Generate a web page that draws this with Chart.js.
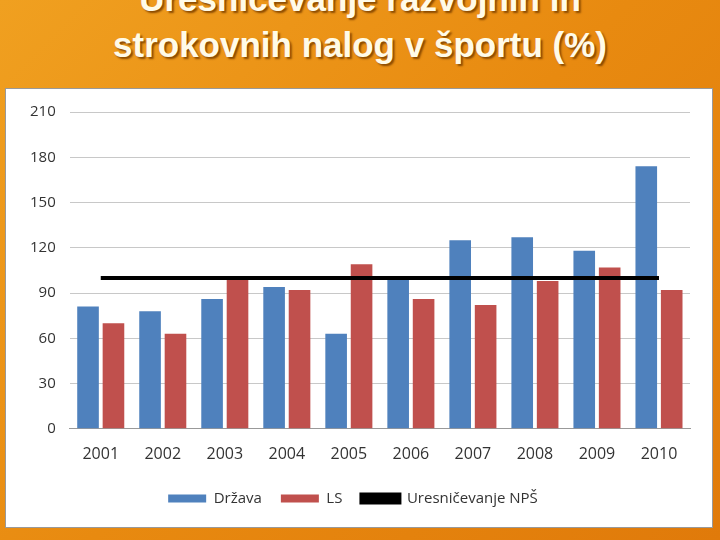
<!DOCTYPE html>
<html><head><meta charset="utf-8">
<script src="https://cdn.jsdelivr.net/npm/chart.js@4"></script>
<style>
body{margin:0;width:720px;height:540px;overflow:hidden;background:linear-gradient(135deg,#f0a020 0%,#e88a10 50%,#e07a0a 100%);font-family:"Liberation Sans",Arial,sans-serif;position:relative}
.t{position:absolute;left:0;width:720px;text-align:center;color:#fffbe8;font-weight:bold;font-size:35px;text-shadow:2px 2px 2px #8a4a00}
#panel{position:absolute;left:5px;top:88px;width:706px;height:438px;background:#fff;border:1px solid #999}
</style></head><body>
<div class="t" style="top:-21px">Uresničevanje razvojnih in</div>
<div class="t" style="top:25px">strokovnih nalog v športu (%)</div>
<div id="panel"><canvas id="c" width="706" height="438"></canvas></div>
<script>
const categories=["2001","2002","2003","2004","2005","2006","2007","2008","2009","2010"];
const drzava=[81,78,86,94,63,101,125,127,118,174];
const ls=[70,63,100,92,109,86,82,98,107,92];
const nps=[100,100,100,100,100,100,100,100,100,100];
new Chart(document.getElementById('c'),{
 data:{labels:categories,datasets:[
  {type:'line',label:'Uresničevanje NPŠ',data:nps,borderColor:'#000',backgroundColor:'#000',borderWidth:4,pointRadius:0,order:0},
  {type:'bar',label:'Država',data:drzava,backgroundColor:'#4F81BD',categoryPercentage:0.82,barPercentage:0.85,order:1},
  {type:'bar',label:'LS',data:ls,backgroundColor:'#C0504D',categoryPercentage:0.82,barPercentage:0.85,order:1}
 ]},
 options:{responsive:false,animation:false,
  layout:{padding:{left:10,right:22,top:14,bottom:11}},
  plugins:{legend:{position:'bottom',labels:{boxWidth:38,boxHeight:8,color:'#333',font:{size:15,family:'Open Sans'},padding:19,
    sort:(a,b)=>[1,2,0].indexOf(a.datasetIndex)-[1,2,0].indexOf(b.datasetIndex)}},tooltip:{enabled:false}},
  scales:{
   x:{grid:{display:false},border:{color:'#999'},ticks:{color:'#333',font:{size:16,family:'Open Sans'},padding:8}},
   y:{min:0,max:210,ticks:{stepSize:30,color:'#333',font:{size:15,family:'Open Sans'},padding:14},grid:{color:'#c8c8c8',drawTicks:false},border:{display:false}}
  }}
});
</script></body></html>
